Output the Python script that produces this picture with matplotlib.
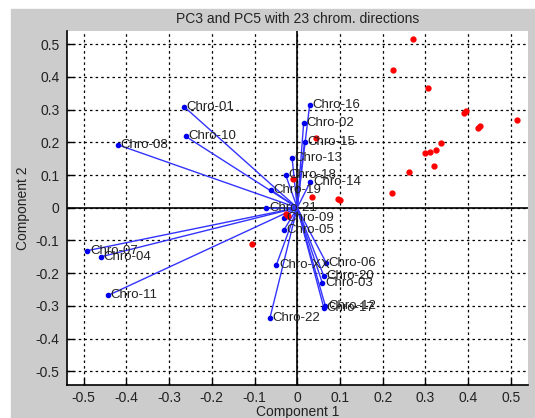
import matplotlib
matplotlib.use("Agg")
import matplotlib.pyplot as plt
from matplotlib.patches import Rectangle

plt.rcParams['font.family'] = ['Liberation Sans', 'DejaVu Sans']

# variable directions (loadings on PC3 / PC5)
chrom_labels = ['Chro-01', 'Chro-02', 'Chro-03', 'Chro-04', 'Chro-05', 'Chro-06',
                'Chro-07', 'Chro-08', 'Chro-09', 'Chro-10', 'Chro-11', 'Chro-12',
                'Chro-13', 'Chro-14', 'Chro-15', 'Chro-16', 'Chro-17', 'Chro-18',
                'Chro-19', 'Chro-20', 'Chro-21', 'Chro-22', 'Chro-XX']
load_x = [-0.265, 0.015, 0.059, -0.460, -0.031, 0.068,
          -0.491, -0.419, -0.031, -0.261, -0.443, 0.066,
          -0.012, 0.031, 0.017, 0.029, 0.062, -0.027,
          -0.061, 0.062, -0.072, -0.064, -0.049]
load_y = [0.309, 0.259, -0.231, -0.150, -0.068, -0.169,
          -0.131, 0.192, -0.031, 0.218, -0.268, -0.301,
          0.151, 0.080, 0.202, 0.314, -0.305, 0.100,
          0.054, -0.208, -0.002, -0.337, -0.175]

# observation scores
score_x = [0.271, 0.223, 0.306, 0.391, 0.394, 0.422, 0.427, 0.515,
           0.336, 0.324, 0.311, 0.299, 0.321, 0.261, 0.222, 0.095,
           0.101, 0.035, 0.045, -0.010, -0.027, -0.022, -0.105]
score_y = [0.516, 0.421, 0.365, 0.291, 0.295, 0.245, 0.251, 0.269,
           0.198, 0.176, 0.169, 0.167, 0.128, 0.110, 0.046, 0.028,
           0.024, 0.034, 0.213, 0.087, -0.019, -0.025, -0.111]

ticks = [-0.5, -0.4, -0.3, -0.2, -0.1, 0, 0.1, 0.2, 0.3, 0.4, 0.5]
tick_labels = ['-0.5', '-0.4', '-0.3', '-0.2', '-0.1', '0',
               '0.1', '0.2', '0.3', '0.4', '0.5']

fig = plt.figure(figsize=(5.35, 4.18), dpi=100, facecolor='white')
fig.patches.append(Rectangle((11 / 535, 0), 1, 1 - 9 / 418,
                             transform=fig.transFigure, color='#cccccc', zorder=-10))

ax = fig.add_axes([66.5 / 535, 33.5 / 418, 461.5 / 535, 353.5 / 418])
ax.set_facecolor('white')
ax.set_xlim(-0.54, 0.54)
ax.set_ylim(-0.54, 0.54)

ax.grid(True, linestyle=(0, (2, 2.5)), color='black', linewidth=0.9)
ax.set_axisbelow(True)
ax.axhline(0, color='black', linewidth=1.2, zorder=2)
ax.axvline(0, color='black', linewidth=1.2, zorder=2)

for x, y in zip(load_x, load_y):
    ax.plot([0, x], [0, y], color='#3333ff', linewidth=1.0, zorder=3)
ax.plot(load_x, load_y, '.', color='#0000ee', markersize=6, zorder=4)
for lab, x, y in zip(chrom_labels, load_x, load_y):
    ax.text(x + 0.006, y, lab, fontsize=9.5, color='#222222',
            ha='left', va='center', zorder=5)

ax.plot(score_x, score_y, '.', color='red', markersize=7, zorder=4)

ax.set_xticks(ticks)
ax.set_xticklabels(tick_labels)
ax.set_yticks(ticks)
ax.set_yticklabels(tick_labels)
ax.tick_params(direction='in', length=5, width=1, labelsize=10,
               labelcolor='#222222', pad=5)
for side in ['top', 'right']:
    ax.spines[side].set_visible(False)
for side in ['left', 'bottom']:
    ax.spines[side].set_linewidth(1.2)

ax.set_title('PC3 and PC5 with 23 chrom. directions', fontsize=10,
             color='#222222', pad=6)
ax.set_xlabel('Component 1', fontsize=10, color='#222222', labelpad=0)
ax.set_ylabel('Component 2', fontsize=10, color='#222222', labelpad=4)

fig.savefig('out.png', dpi=100, facecolor=fig.get_facecolor())
